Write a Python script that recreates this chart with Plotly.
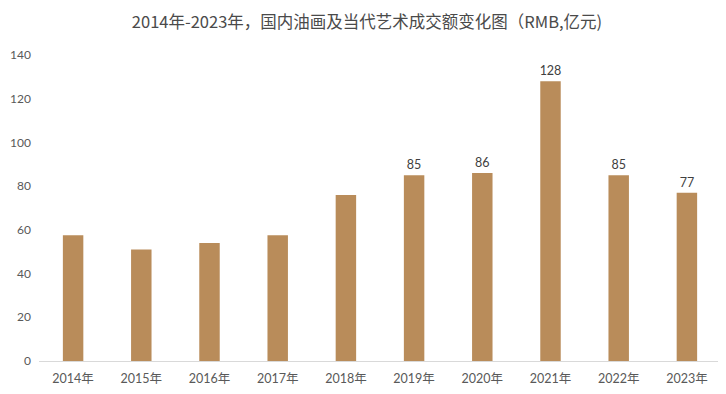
import plotly.graph_objects as go

years = ["2014年", "2015年", "2016年", "2017年", "2018年", "2019年", "2020年", "2021年", "2022年", "2023年"]
values = [57.5, 51, 54, 57.5, 76, 85, 86, 128, 85, 77]
labeled = [False, False, False, False, False, True, True, True, True, True]
y_ticks = [0, 20, 40, 60, 80, 100, 120, 140]

text = [f"{v:.0f}" if show else "" for v, show in zip(values, labeled)]

font_family = "Lato, 'Noto Sans CJK SC', sans-serif"

fig = go.Figure(go.Bar(
    x=years, y=values, text=text, textposition="outside",
    textfont=dict(size=12.5, color="#404040", family=font_family),
    marker=dict(color="#B98C5A", line=dict(width=0)),
    cliponaxis=False, constraintext="none",
))

fig.update_layout(
    width=718, height=386,
    margin=dict(l=31, r=5, t=47, b=33),
    paper_bgcolor="white", plot_bgcolor="white",
    bargap=0.70,
    showlegend=False,
    title=dict(text="2014年-2023年，国内油画及当代艺术成交额变化图（RMB,亿元)",
               x=0.5, xanchor="center", y=0.964, yanchor="middle",
               font=dict(size=16.5, color="#4a4a4a", family="'Noto Sans CJK SC', sans-serif")),
    font=dict(family=font_family, size=12, color="#595959"),
)
fig.update_xaxes(showgrid=False, showline=True, linecolor="#D9D9D9", linewidth=1,
                 ticks="", ticklabelstandoff=6, automargin=False,
                 tickfont=dict(size=12.5, color="#595959", family=font_family))
fig.update_yaxes(range=[0, 140], tickvals=y_ticks, showgrid=False, zeroline=False,
                 showline=False, ticks="", ticklabelstandoff=7, automargin=False,
                 tickfont=dict(size=12, color="#595959", family=font_family))

fig.write_html("out.html")
